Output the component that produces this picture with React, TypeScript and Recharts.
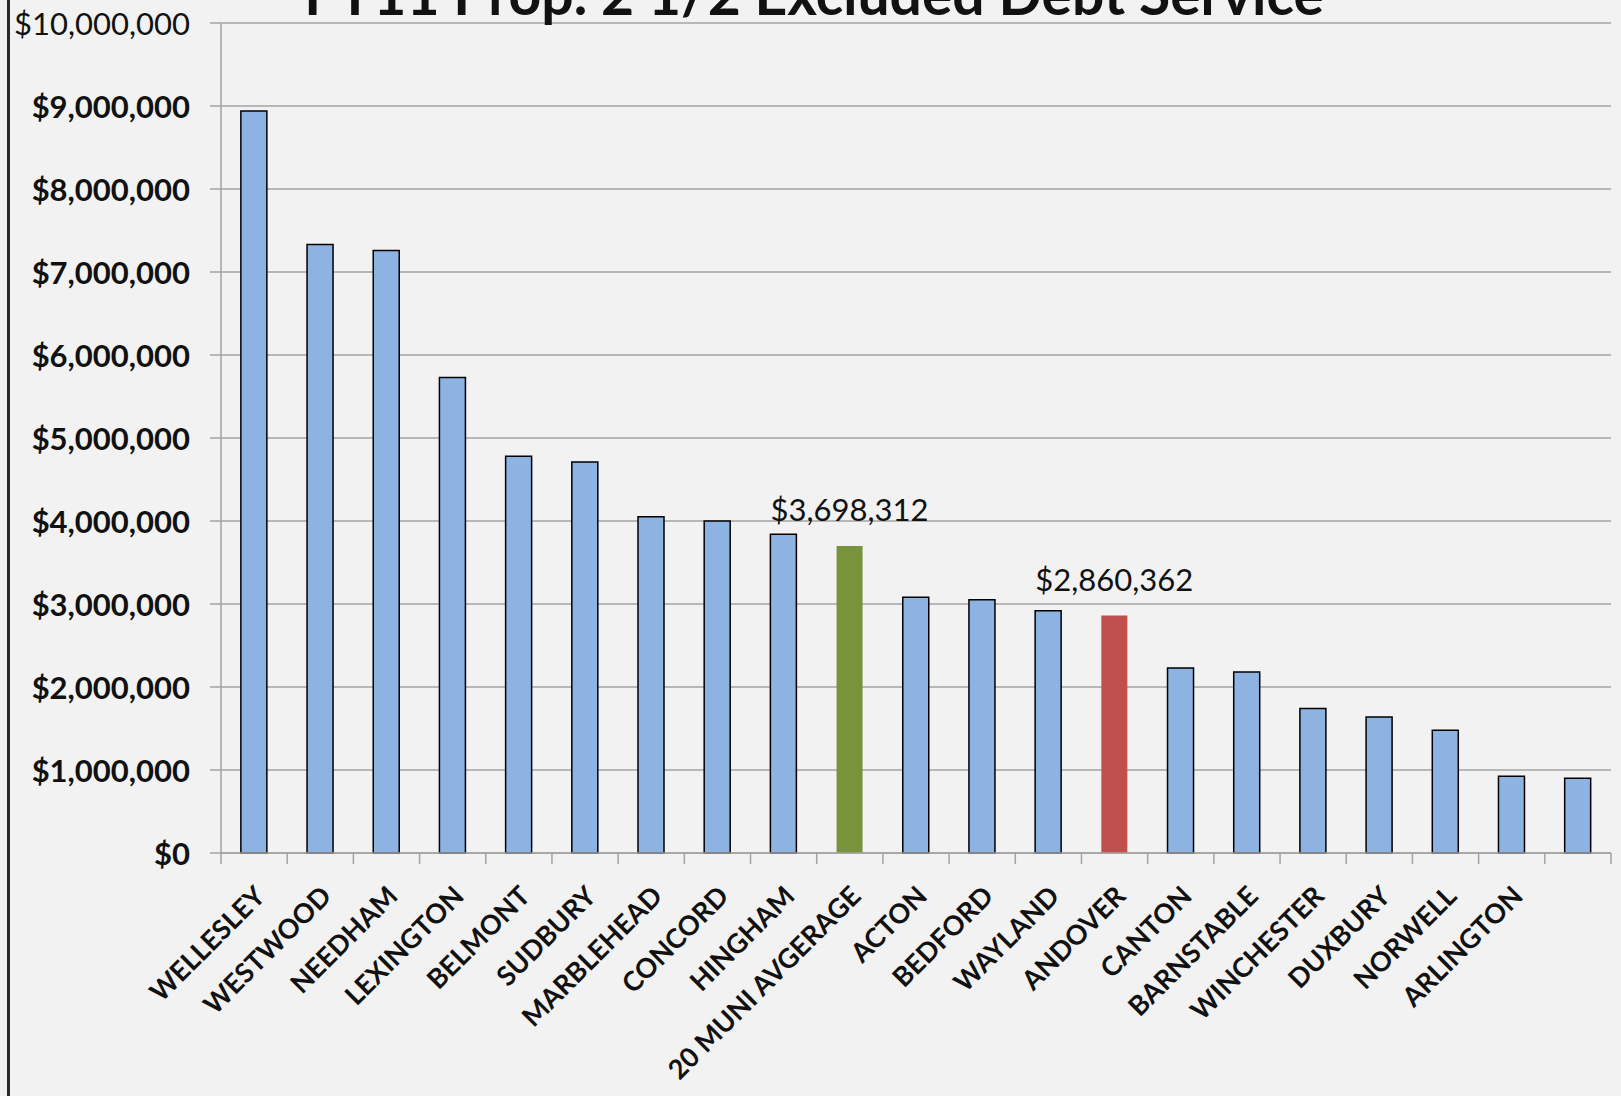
import React from 'react';
import { BarChart, Bar, XAxis, YAxis, CartesianGrid, Cell, LabelList } from 'recharts';

const towns = [
  'WELLESLEY', 'WESTWOOD', 'NEEDHAM', 'LEXINGTON', 'BELMONT', 'SUDBURY', 'MARBLEHEAD',
  'CONCORD', 'HINGHAM', '20 MUNI AVGERAGE', 'ACTON', 'BEDFORD', 'WAYLAND', 'ANDOVER',
  'CANTON', 'BARNSTABLE', 'WINCHESTER', 'DUXBURY', 'NORWELL', 'ARLINGTON', '',
];

const debtService = [
  8940000, 7330000, 7260000, 5730000, 4780000, 4710000, 4050000,
  4000000, 3840000, 3698312, 3080000, 3050000, 2920000, 2860362,
  2230000, 2180000, 1740000, 1640000, 1480000, 925000, 900000,
];

const averageTown = '20 MUNI AVGERAGE';
const homeTown = 'ANDOVER';

const yTicks = [0, 1000000, 2000000, 3000000, 4000000, 5000000, 6000000, 7000000, 8000000, 9000000, 10000000];

const FONT = 'Lato, "Open Sans", sans-serif';
const GRID = '#a3a3a3';

const data = towns.map((town, i) => ({
  key: `t${i}`,
  town,
  value: debtService[i],
  callout: town === averageTown || town === homeTown ? debtService[i] : null,
}));

const money = (v: number) => '$' + v.toLocaleString('en-US');

const barColor = (town: string) =>
  town === averageTown ? '#77933c' : town === homeTown ? '#c0504d' : '#8db3e2';

const YTick = ({ x, y, payload }: any) => (
  <text
    x={x}
    y={y}
    textAnchor="end"
    dominantBaseline="central"
    fontFamily={FONT}
    fontSize={31}
    fontWeight={payload.value === 10000000 ? 400 : 700}
    fill="#111"
  >
    {money(payload.value)}
  </text>
);

// Excel-style: tick marks sit between categories, labels under bar centres
const XTick = ({ x, y, payload, index }: any) => {
  const half = payload.offset ?? 0;
  const town = towns[index] ?? '';
  return (
    <g>
      <line x1={x - half} x2={x - half} y1={y} y2={y + 11} stroke={GRID} strokeWidth={1.5} />
      {index === towns.length - 1 && (
        <line x1={x + half} x2={x + half} y1={y} y2={y + 11} stroke={GRID} strokeWidth={1.5} />
      )}
      <g transform={`translate(${x - 1},${y + 31})`}>
        <text
          transform="rotate(-45)"
          textAnchor="end"
          dy="0.72em"
          fontFamily={FONT}
          fontSize={27}
          fontWeight={700}
          fill="#111"
        >
          {town}
        </text>
      </g>
    </g>
  );
};

const Callout = ({ x, y, width, value }: any) => {
  if (value == null) return null;
  return (
    <text
      x={x + width / 2}
      y={y - 25}
      textAnchor="middle"
      fontFamily={FONT}
      fontSize={31}
      fill="#111"
    >
      {money(value)}
    </text>
  );
};

export default function App() {
  return (
    <div style={{ position: 'relative', width: 1621, height: 1096, background: '#f2f2f2', overflow: 'hidden' }}>
      <style>{'body{margin:0}'}</style>
      <div style={{ position: 'absolute', left: 7, top: 0, width: 3, height: 1096, background: '#2a2a2a' }} />
      <BarChart
        width={1621}
        height={1096}
        data={data}
        margin={{ top: 23, right: 10, left: 0, bottom: 0 }}
        barCategoryGap="30%"
      >
        <CartesianGrid vertical={false} stroke={GRID} strokeWidth={1.5} />
        <XAxis
          dataKey="key"
          interval={0}
          height={243}
          axisLine={{ stroke: GRID, strokeWidth: 1.5 }}
          tickLine={false}
          tickSize={0}
          tickMargin={0}
          tick={<XTick />}
        />
        <YAxis
          width={221}
          domain={[0, 10000000]}
          ticks={yTicks}
          interval={0}
          tickSize={11}
          tickMargin={20}
          axisLine={{ stroke: GRID, strokeWidth: 1.5 }}
          tickLine={{ stroke: GRID, strokeWidth: 1.5 }}
          tick={<YTick />}
        />
        <Bar dataKey="value" isAnimationActive={false}>
          {data.map((d) => (
            <Cell
              key={d.key}
              fill={barColor(d.town)}
              stroke={d.callout == null ? '#000' : 'none'}
              strokeWidth={1.5}
            />
          ))}
          <LabelList dataKey="callout" content={<Callout />} />
        </Bar>
      </BarChart>
      <svg width={1621} height={60} style={{ position: 'absolute', left: 0, top: 0, pointerEvents: 'none' }}>
        <text x={814} y={15} textAnchor="middle" fontFamily={FONT} fontSize={57} fontWeight={700} fill="#111">
          FY11 Prop. 2 1/2 Excluded Debt Service
        </text>
      </svg>
    </div>
  );
}
